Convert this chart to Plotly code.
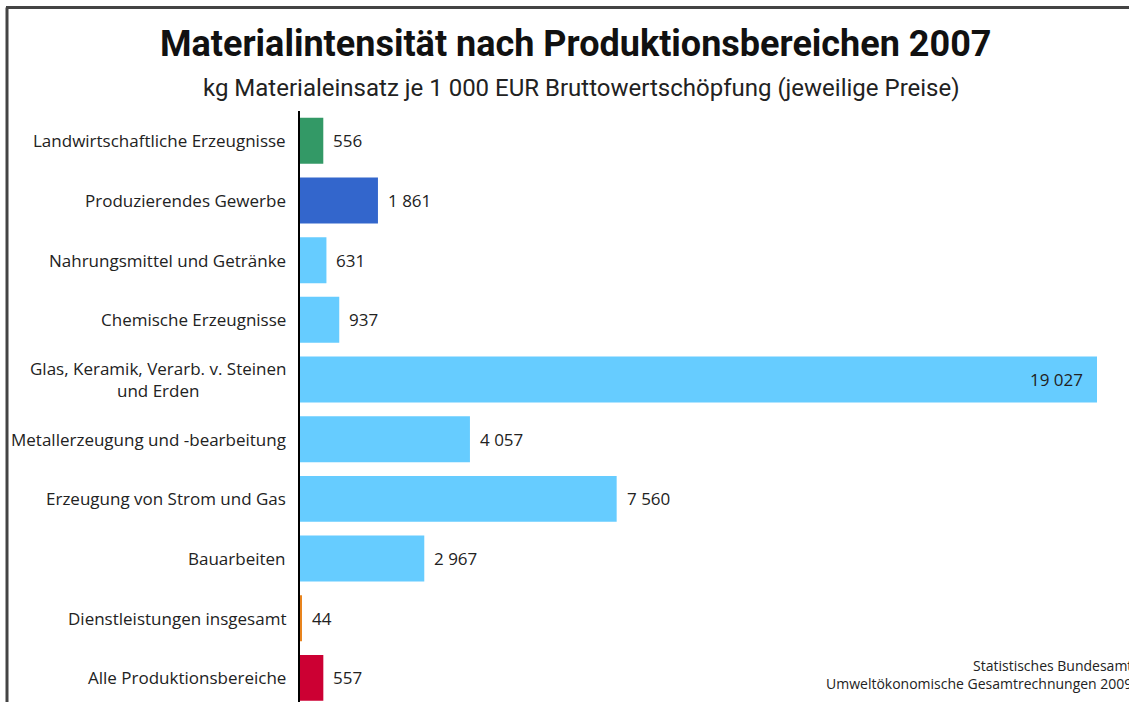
import plotly.graph_objects as go

categories = [
    "Landwirtschaftliche Erzeugnisse",
    "Produzierendes Gewerbe",
    "Nahrungsmittel und Getränke",
    "Chemische Erzeugnisse",
    "Glas, Keramik, Verarb. v. Steinen<br>und Erden",
    "Metallerzeugung und -bearbeitung",
    "Erzeugung von Strom und Gas",
    "Bauarbeiten",
    "Dienstleistungen insgesamt",
    "Alle Produktionsbereiche",
]
values = [556, 1861, 631, 937, 19027, 4057, 7560, 2967, 44, 557]
colors = ["#339966", "#3366CC", "#66CCFF", "#66CCFF", "#66CCFF",
          "#66CCFF", "#66CCFF", "#66CCFF", "#E8841E", "#CC0033"]

title = "Materialintensität nach Produktionsbereichen 2007"
subtitle = "kg Materialeinsatz je 1 000 EUR Bruttowertschöpfung (jeweilige Preise)"
source = "Statistisches Bundesamt<br>Umweltökonomische Gesamtrechnungen 2009"

W, H = 1129, 702
L, R, T, B = 300, 32, 111, 0
pw, ph = W - L - R, H - T - B

def px(x):
    return (x - L) / pw

def py(y):
    return (H - B - y) / ph

ypos = list(range(len(categories)))
step = 59.67
ymax = -0.5 + ph / step

fig = go.Figure(go.Bar(
    x=values, y=ypos, orientation="h",
    marker=dict(color=colors, line=dict(width=0)),
    width=0.77, hoverinfo="skip",
))

font_lbl = "Open Sans, Noto Sans, sans-serif"
ann = []
for i, (c, v) in enumerate(zip(categories, values)):
    ann.append(dict(x=0, xref="paper", y=i, yref="y", text=c, showarrow=False,
                    xanchor="right", xshift=-12, align="center",
                    font=dict(family=font_lbl, size=17, color="#222")))
    s = f"{v:,}".replace(",", " ")
    if v == max(values):
        ann.append(dict(x=v, y=i, xref="x", yref="y", text=s, showarrow=False,
                        xanchor="right", xshift=-12,
                        font=dict(family=font_lbl, size=17, color="#222")))
    else:
        ann.append(dict(x=v, y=i, xref="x", yref="y", text=s, showarrow=False,
                        xanchor="left", xshift=8,
                        font=dict(family=font_lbl, size=17, color="#222")))

ann.append(dict(x=px(575), y=py(44), xref="paper", yref="paper", text=f"<b>{title}</b>",
                showarrow=False, xanchor="center", yanchor="middle",
                font=dict(family="Roboto, sans-serif", size=36, color="#111")))
ann.append(dict(x=px(581), y=py(88), xref="paper", yref="paper", text=subtitle,
                showarrow=False, xanchor="center", yanchor="middle",
                font=dict(family="Roboto, sans-serif", size=24, color="#222")))
ann.append(dict(x=px(824), y=py(674), xref="paper", yref="paper", text=source,
                showarrow=False, xanchor="left", yanchor="middle", align="right",
                font=dict(family=font_lbl, size=14, color="#222")))

shapes = [
    dict(type="line", xref="paper", yref="paper", x0=px(6), x1=px(W + 5), y0=py(7.5), y1=py(7.5),
         line=dict(color="#444", width=3)),
    dict(type="line", xref="paper", yref="paper", x0=px(7), x1=px(7), y0=py(7.5), y1=py(H + 5),
         line=dict(color="#444", width=3)),
]

fig.update_layout(
    width=W, height=H,
    margin=dict(l=L, r=R, t=T, b=B, pad=0),
    plot_bgcolor="white", paper_bgcolor="white",
    showlegend=False,
    xaxis=dict(range=[0, max(values)], showgrid=False, showticklabels=False,
               zeroline=False, showline=False, fixedrange=True),
    yaxis=dict(range=[ymax, -0.5], showgrid=False, showticklabels=False,
               zeroline=False, showline=True, linecolor="black", linewidth=1.5,
               fixedrange=True),
    annotations=ann, shapes=shapes,
)

fig.write_html("out.html", config={"displayModeBar": False},
               post_script="document.body.style.margin='0px';")
